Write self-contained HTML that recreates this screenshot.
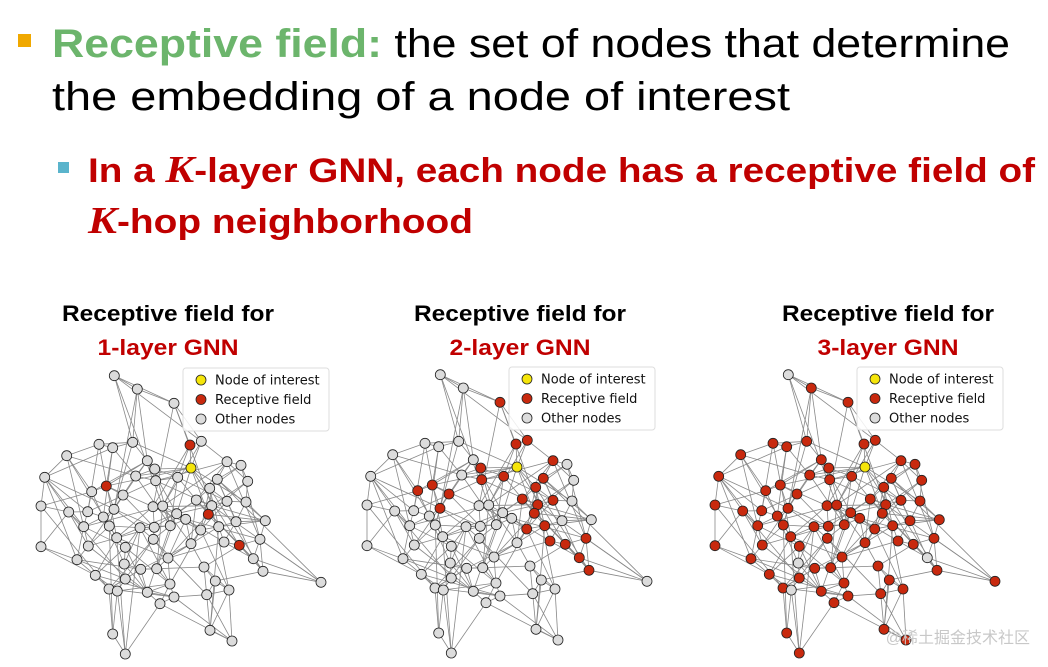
<!DOCTYPE html>
<html><head><meta charset="utf-8"><style>
html,body{margin:0;padding:0;background:#fff;}
svg{display:block}
</style></head><body>
<svg id="s" width="1048" height="667" xmlns="http://www.w3.org/2000/svg">
<rect x="18" y="34" width="13" height="13" fill="#f0a800"/>
<text x="52" y="57" font-family="Liberation Sans, sans-serif" font-size="40" textLength="958" lengthAdjust="spacingAndGlyphs"><tspan fill="#6cb56c" font-weight="bold">Receptive field:</tspan><tspan fill="#000"> the set of nodes that determine</tspan></text>
<text x="52" y="110" font-family="Liberation Sans, sans-serif" font-size="40" fill="#000" textLength="738" lengthAdjust="spacingAndGlyphs">the embedding of a node of interest</text>
<rect x="58" y="162" width="11" height="11" fill="#5ab4cc"/>
<text x="88" y="182" font-family="Liberation Sans, sans-serif" font-size="34" font-weight="bold" fill="#c00000" textLength="947" lengthAdjust="spacingAndGlyphs">In a <tspan font-family="Liberation Serif, serif" font-style="italic" font-size="38">K</tspan>-layer GNN, each node has a receptive field of</text>
<text x="88" y="233" font-family="Liberation Sans, sans-serif" font-size="34" font-weight="bold" fill="#c00000" textLength="385" lengthAdjust="spacingAndGlyphs"><tspan font-family="Liberation Serif, serif" font-style="italic" font-size="38">K</tspan>-hop neighborhood</text>
<g font-family="Liberation Sans, sans-serif" font-weight="bold" font-size="22" text-anchor="middle">
<text x="168" y="321" textLength="212" lengthAdjust="spacingAndGlyphs">Receptive field for</text>
<text x="168" y="355" fill="#c00000" textLength="141" lengthAdjust="spacingAndGlyphs">1-layer GNN</text>
<text x="520" y="321" textLength="212" lengthAdjust="spacingAndGlyphs">Receptive field for</text>
<text x="520" y="355" fill="#c00000" textLength="141" lengthAdjust="spacingAndGlyphs">2-layer GNN</text>
<text x="888" y="321" textLength="212" lengthAdjust="spacingAndGlyphs">Receptive field for</text>
<text x="888" y="355" fill="#c00000" textLength="141" lengthAdjust="spacingAndGlyphs">3-layer GNN</text>
</g>
<g id="graphs"></g>
<text x="1030" y="643" text-anchor="end" font-family="Liberation Sans, 'Noto Sans CJK SC', sans-serif" font-size="16" fill="#c8c8c8">@稀土掘金技术社区</text>
</svg>
<script>
var Z=[[253,47],[322,87],[432,130],[480,255],[514,244],[483,324],[207,253],[248,263],[308,247],[110,287],[352,302],[374,327],[317,348],[229,378],[44,352],[185,395],[377,362],[443,352],[591,305],[633,316],[562,358],[653,364],[539,385],[279,405],[33,438],[116,456],[173,455],[252,448],[369,440],[398,438],[499,420],[545,437],[591,424],[648,426],[535,463],[220,471],[238,498],[161,500],[330,503],[373,502],[421,497],[440,461],[467,478],[512,510],[566,500],[618,485],[706,482],[33,560],[175,558],[260,533],[286,562],[370,538],[483,551],[582,546],[628,556],[690,538],[141,599],[283,612],[332,628],[380,626],[414,594],[522,621],[670,596],[699,634],[196,646],[286,657],[420,672],[556,663],[873,667],[237,687],[262,693],[352,697],[432,711],[530,704],[597,690],[390,731],[248,822],[286,882],[540,811],[606,843]];
var P=Z.map(function(p){return [p[0]/3,p[1]/3];});
var N=P.length,Y=5,R1=[3,12,13,34,54],G3=[0,70,62,57];
var seed=7;function rnd(){seed=(seed*16807)%2147483647;return seed/2147483647;}
var E={},adj=[];for(var i=0;i<N;i++)adj.push([]);
function add(a,b,bfs){if(a==b)return;var k=a<b?a+'_'+b:b+'_'+a;if(E[k])return;E[k]=[a,b];if(bfs){adj[a].push(b);adj[b].push(a);}}
function d(a,b){var dx=P[a][0]-P[b][0],dy=P[a][1]-P[b][1];return Math.sqrt(dx*dx+dy*dy);}
for(var i=0;i<N;i++){var o=[];for(var j=0;j<N;j++)if(j!=i)o.push(j);o.sort(function(a,b){return d(i,a)-d(i,b);});
 for(var t=0;t<3;t++)add(i,o[t],true);
 for(var t=0;t<3;t++){var j=o[3+Math.floor(rnd()*25)];if(rnd()<0.6)add(i,j,false);}}
R1.forEach(function(r){add(Y,r,true);});
var dist=[];for(var i=0;i<N;i++)dist.push(99);dist[Y]=0;var q=[Y];
while(q.length){var u=q.shift();adj[u].forEach(function(v){if(dist[v]==99){dist[v]=dist[u]+1;q.push(v);}});}
for(var i=0;i<N;i++){if(i!=Y&&dist[i]==1&&R1.indexOf(i)<0)dist[i]=2;}
var offs=[[30,360],[356,359],[704,359]],Ks=[1,2,3];
var g=document.getElementById('graphs'),h='';
offs.forEach(function(of,gi){var K=Ks[gi];
 for(var k in E){var e=E[k];h+='<line x1="'+(P[e[0]][0]+of[0]).toFixed(1)+'" y1="'+(P[e[0]][1]+of[1]).toFixed(1)+'" x2="'+(P[e[1]][0]+of[0]).toFixed(1)+'" y2="'+(P[e[1]][1]+of[1]).toFixed(1)+'" stroke="#888" stroke-width="0.8"/>';}
 for(var i=0;i<N;i++){var red=(K==3)?(G3.indexOf(i)<0):(dist[i]<=K);
  var c=i==Y?'#f5e50a':(red?'#c8290e':'#dcdcdc');
  h+='<circle cx="'+(P[i][0]+of[0]).toFixed(1)+'" cy="'+(P[i][1]+of[1]).toFixed(1)+'" r="5" fill="'+c+'" stroke="#222" stroke-width="0.8"/>';}
 var lx=of[0]+153,ly=of[1]+8;
 h+='<rect x="'+lx+'" y="'+ly+'" width="146" height="63" rx="3" fill="#fff" fill-opacity="0.85" stroke="#ddd"/>';
 var items=[['#f5e50a','Node of interest'],['#c8290e','Receptive field'],['#dcdcdc','Other nodes']];
 items.forEach(function(it,j){var y=ly+12+j*19.5;
  h+='<circle cx="'+(lx+18)+'" cy="'+y+'" r="5" fill="'+it[0]+'" stroke="#222" stroke-width="0.8"/>';
  h+='<text x="'+(lx+32)+'" y="'+(y+4.5)+'" font-family="DejaVu Sans, sans-serif" font-size="13" fill="#111">'+it[1]+'</text>';});
});
g.innerHTML=h;
</script>
</body></html>
